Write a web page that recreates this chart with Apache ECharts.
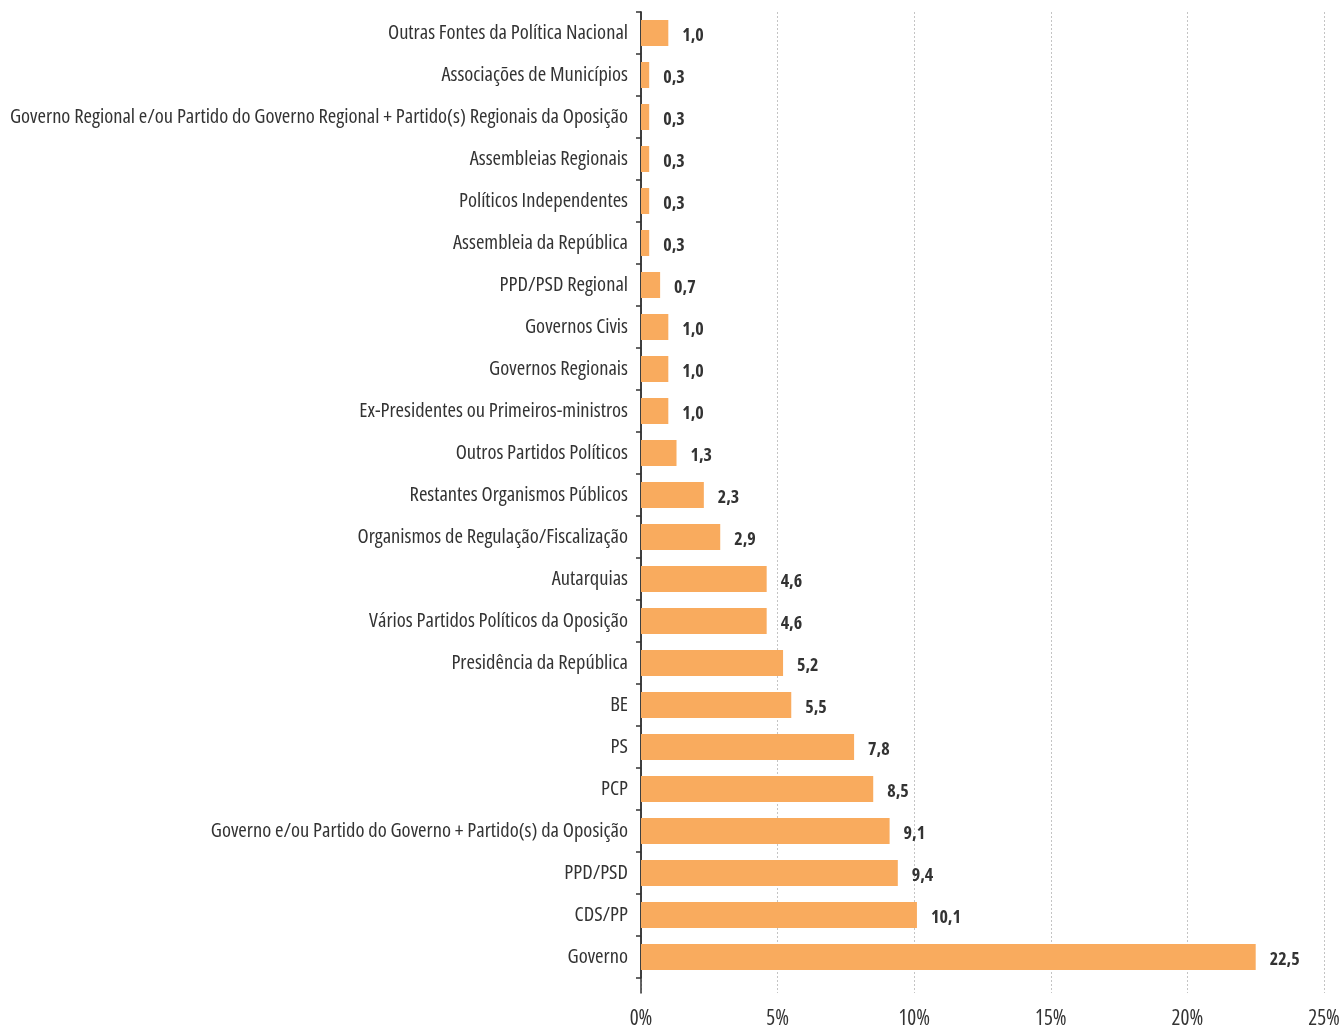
<!DOCTYPE html>
<html><head><meta charset="utf-8">
<script src="https://cdn.jsdelivr.net/npm/echarts@6/dist/echarts.min.js"></script>
<style>html,body{margin:0;padding:0;background:#fff}#c{width:1343px;height:1030px}</style>
</head><body><div id="c"></div>
<script>
const categories = [
  "Outras Fontes da Política Nacional",
  "Associações de Municípios",
  "Governo Regional e/ou Partido do Governo Regional + Partido(s) Regionais da Oposição",
  "Assembleias Regionais",
  "Políticos Independentes",
  "Assembleia da República",
  "PPD/PSD Regional",
  "Governos Civis",
  "Governos Regionais",
  "Ex-Presidentes ou Primeiros-ministros",
  "Outros Partidos Políticos",
  "Restantes Organismos Públicos",
  "Organismos de Regulação/Fiscalização",
  "Autarquias",
  "Vários Partidos Políticos da Oposição",
  "Presidência da República",
  "BE",
  "PS",
  "PCP",
  "Governo e/ou Partido do Governo + Partido(s) da Oposição",
  "PPD/PSD",
  "CDS/PP",
  "Governo"
];
const values = [1.0,0.3,0.3,0.3,0.3,0.3,0.7,1.0,1.0,1.0,1.3,2.3,2.9,4.6,4.6,5.2,5.5,7.8,8.5,9.1,9.4,10.1,22.5];
const xTicks = [0,5,10,15,20,25];

const FONT = '"Open Sans"';
const chart = echarts.init(document.getElementById('c'), null, {renderer:'canvas'});
chart.setOption({
  animation:false,
  grid:[
    {left:641, top:12, width:683, height:981, outerBoundsMode:'none', containLabel:false},
    {left:641, top:12, width:683, height:966, outerBoundsMode:'none', containLabel:false}
  ],
  xAxis:[
    {gridIndex:0, type:'value', min:xTicks[0], max:xTicks[xTicks.length-1], interval:5,
     axisLine:{show:false}, axisTick:{show:false},
     axisLabel:{formatter:v=>v+'%', color:'#333', fontFamily:FONT, fontWeight:'normal condensed', fontSize:21, margin:16},
     splitLine:{show:true, lineStyle:{type:[2,2], color:'#c4c4c4', width:1}}},
    {gridIndex:1, type:'value', min:0, max:25, show:false}
  ],
  yAxis:[
    {gridIndex:0, type:'value', min:0, max:1, axisLine:{show:true, lineStyle:{color:'#333', width:1.5}},
     axisTick:{show:false}, axisLabel:{show:false}, splitLine:{show:false}},
    {gridIndex:1, type:'category', inverse:true, data:categories,
     axisLine:{show:true, lineStyle:{color:'#333', width:1.5}},
     axisTick:{show:true, length:5, lineStyle:{color:'#333', width:1.5}},
     axisLabel:{color:'#333', fontFamily:FONT, fontWeight:'normal condensed', fontSize:20.5, margin:13},
     splitLine:{show:false}}
  ],
  series:[{
    type:'bar', xAxisIndex:1, yAxisIndex:1, data:values, barWidth:26,
    itemStyle:{color:'#F9AB5E'},
    label:{show:true, position:'right', distance:14, offset:[0,3],
      formatter:p=>p.value.toFixed(1).replace('.',','),
      color:'#333', fontFamily:FONT, fontWeight:'bold condensed', fontSize:18}
  }]
});
</script></body></html>
